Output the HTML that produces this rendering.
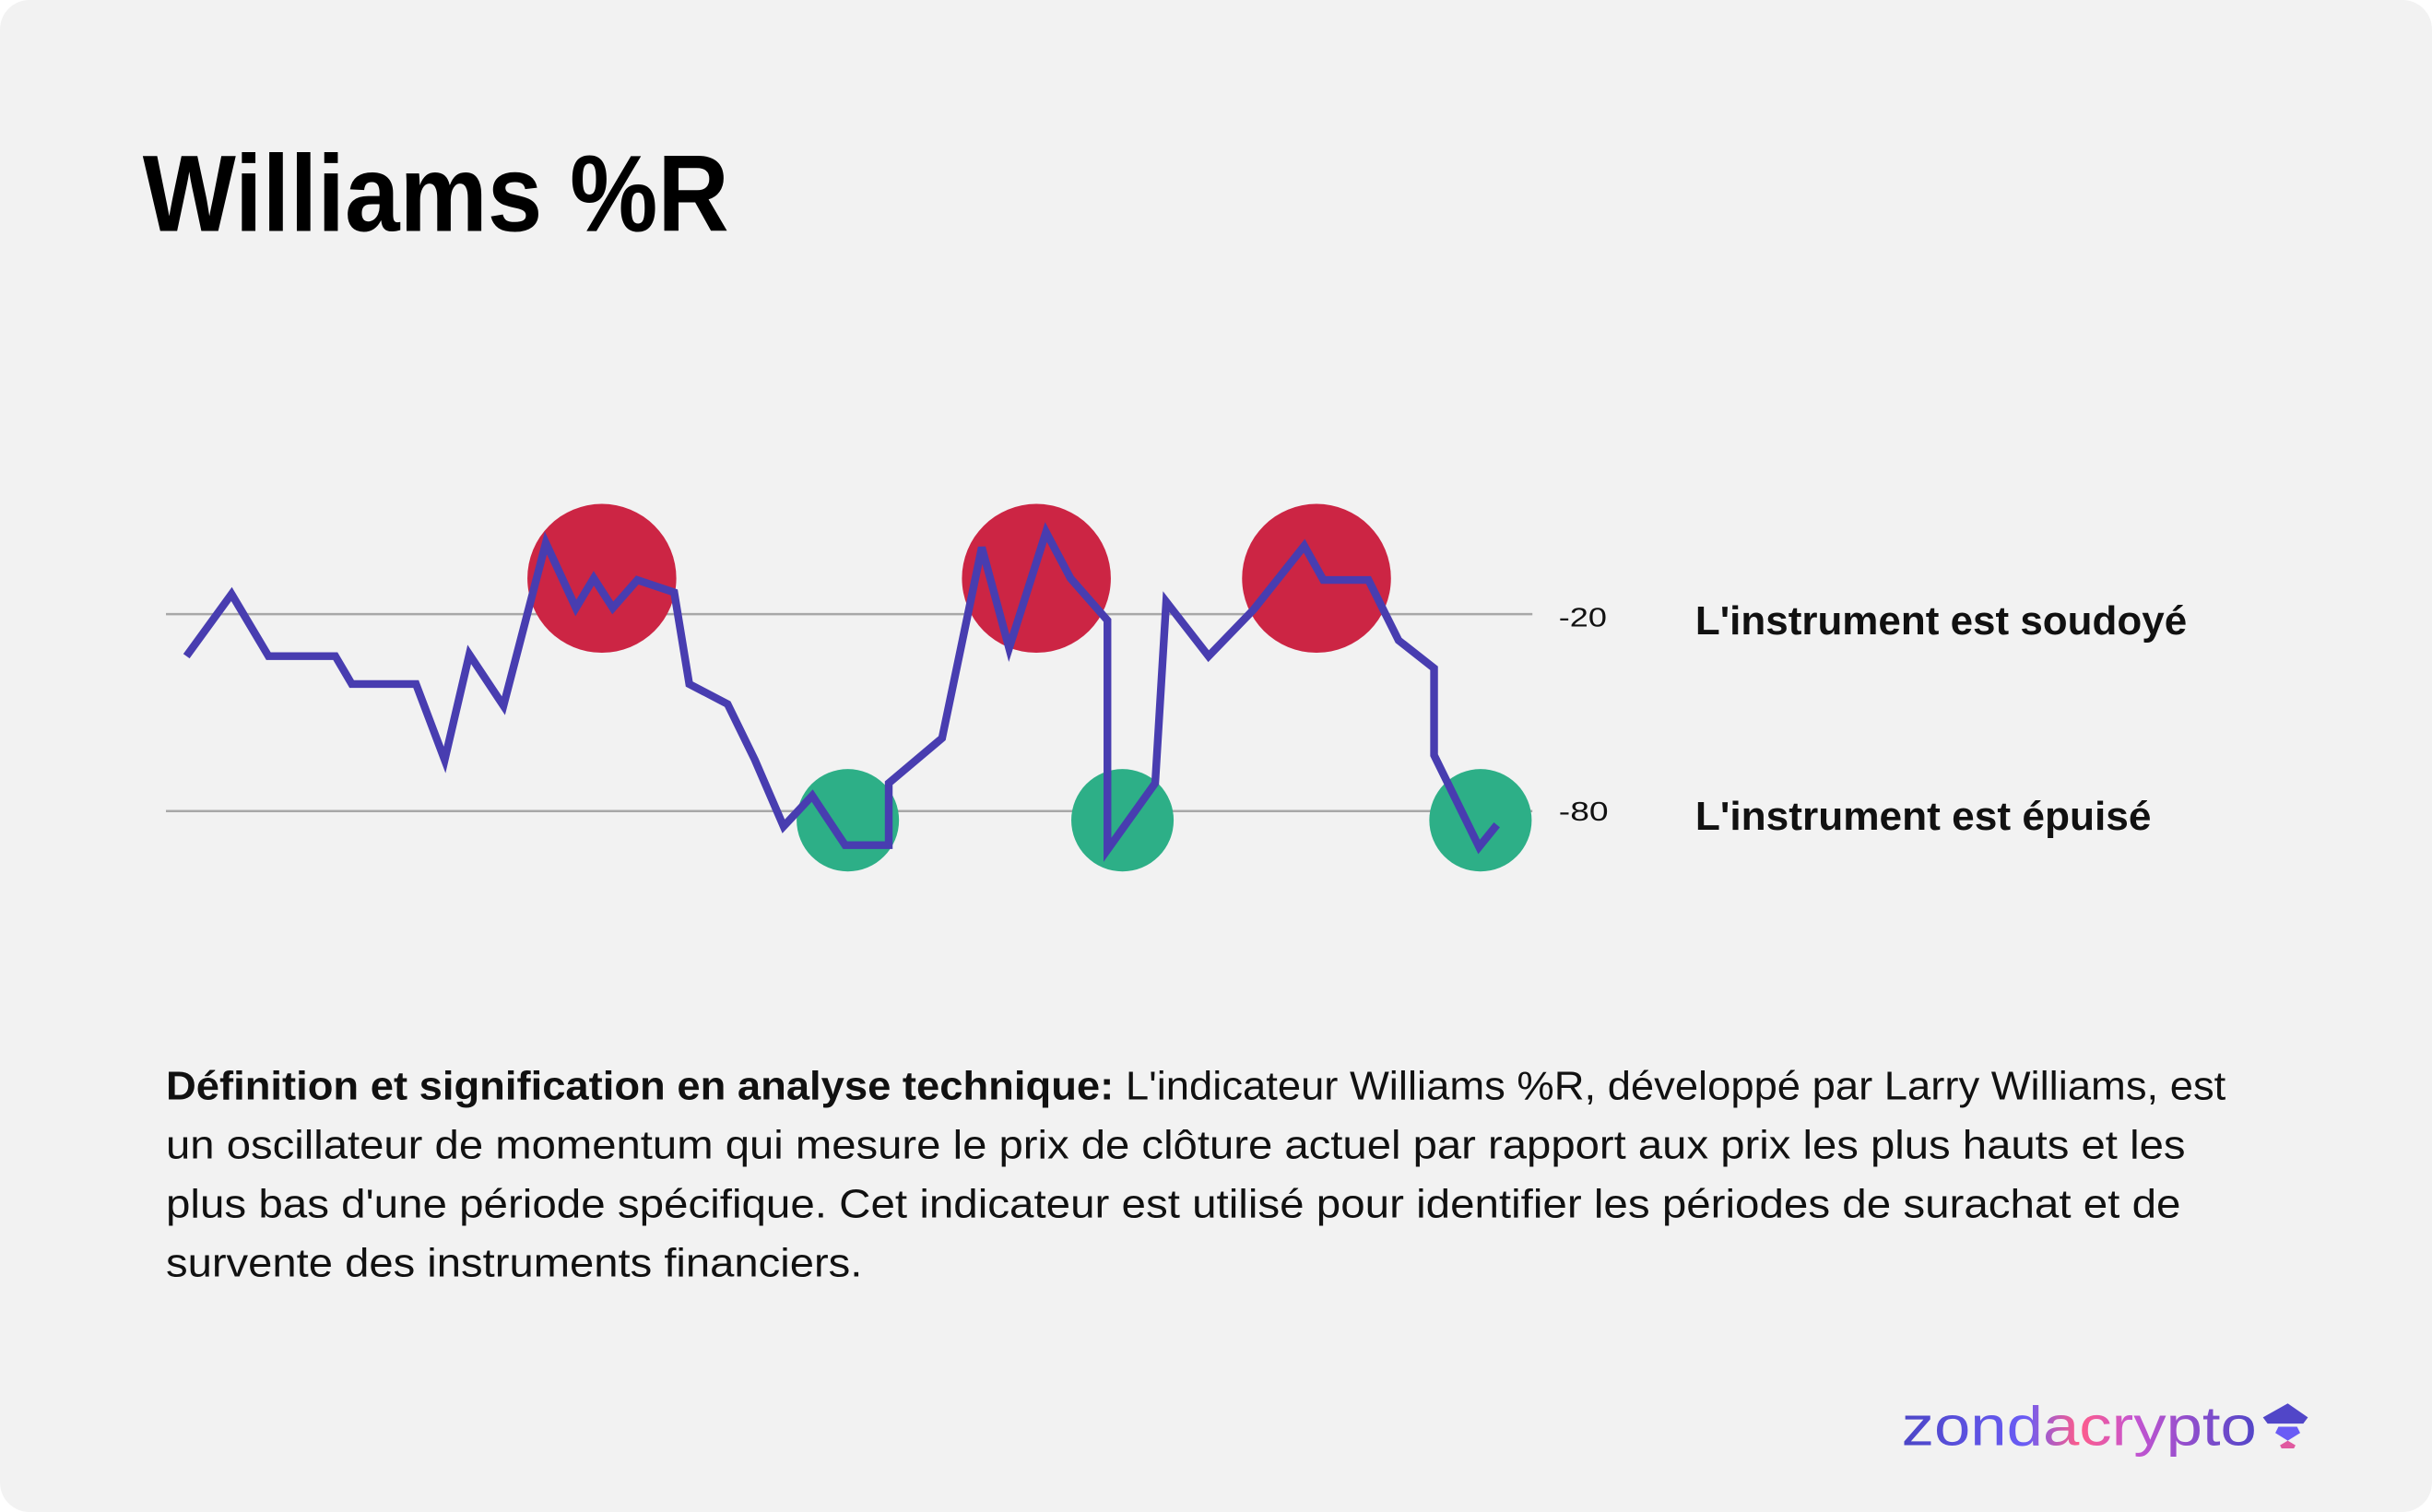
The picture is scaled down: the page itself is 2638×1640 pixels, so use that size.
<!DOCTYPE html>
<html><head><meta charset="utf-8"><style>
html,body{margin:0;padding:0;background:#fff;}
svg{display:block;}
text{font-family:"Liberation Sans",sans-serif;}
</style></head><body>
<svg id="chart" width="2638" height="1640" viewBox="0 0 1568 975" preserveAspectRatio="none" xmlns="http://www.w3.org/2000/svg">
<defs>
<linearGradient id="lg" x1="0" y1="0" x2="1" y2="0">
<stop offset="0" stop-color="#4b45c6"/><stop offset="0.35" stop-color="#6a5cf5"/><stop offset="0.5" stop-color="#ff5c8a"/><stop offset="0.65" stop-color="#c655d0"/><stop offset="1" stop-color="#5146c8"/>
</linearGradient>
</defs>
<rect x="0" y="0" width="1568" height="975" rx="19" fill="#f2f2f2"/>
<text x="92" y="149" font-size="70" font-weight="bold" fill="#000" textLength="378" lengthAdjust="spacingAndGlyphs">Williams %R</text>
<g id="plot"></g>
<text x="1005" y="404" font-size="17" fill="#111" textLength="31" lengthAdjust="spacingAndGlyphs">-20</text>
<text x="1005" y="529" font-size="17" fill="#111" textLength="32" lengthAdjust="spacingAndGlyphs">-80</text>
<text x="1093" y="409" font-size="26" font-weight="bold" fill="#111" textLength="317" lengthAdjust="spacingAndGlyphs">L'instrument est soudoyé</text>
<text x="1093" y="535" font-size="26" font-weight="bold" fill="#111" textLength="294" lengthAdjust="spacingAndGlyphs">L'instrument est épuisé</text>
<g font-size="26" fill="#111">
<text x="107" y="709" textLength="1328" lengthAdjust="spacingAndGlyphs"><tspan font-weight="bold">Définition et signification en analyse technique:</tspan> L'indicateur Williams %R, développé par Larry Williams, est</text>
<text x="107" y="747" textLength="1302" lengthAdjust="spacingAndGlyphs">un oscillateur de momentum qui mesure le prix de clôture actuel par rapport aux prix les plus hauts et les</text>
<text x="107" y="785" textLength="1299" lengthAdjust="spacingAndGlyphs">plus bas d'une période spécifique. Cet indicateur est utilisé pour identifier les périodes de surachat et de</text>
<text x="107" y="823" textLength="449" lengthAdjust="spacingAndGlyphs">survente des instruments financiers.</text>
</g>
<g>
<text x="1226" y="932" font-size="36" font-family="Liberation Mono, monospace" fill="url(#lg)" textLength="229" lengthAdjust="spacingAndGlyphs">zondacrypto</text>
<polygon points="1475,905 1488,914 1485,918 1462,918 1459,914" fill="#5146c8"/>
<polygon points="1469,920 1481,920 1483,924 1475,929 1467,924" fill="#6a5cf5"/>
<polygon points="1470,932 1475,929 1480,932 1479,934 1471,934" fill="#e05aa0"/>
</g>
</svg>
<script>
const times=[1.5,4.8,7.5,12.4,13.6,18.3,20.4,22.2,24.7,27.8,30.0,31.3,32.7,34.5,37.2,38.3,41.1,43.1,45.2,47.3,49.7,52.9,52.9,56.8,59.7,61.7,64.4,66.2,68.9,68.9,72.4,73.2,76.3,79.6,83.3,84.7,88.0,90.2,92.8,92.8,96.1,97.4];
const wr=[-32.8,-13.9,-32.8,-32.8,-41.3,-41.3,-64.4,-32.3,-47.9,1.7,-18.1,-9.1,-18.1,-9.6,-13.4,-41.3,-47.4,-64.4,-84.7,-75.3,-90.4,-90.4,-71.5,-57.8,0.3,-30.4,5.0,-9.1,-21.9,-91.8,-71.5,-16.2,-32.8,-18.6,0.8,-9.6,-9.6,-28.0,-36.5,-63.0,-90.9,-84.2];
const levels=[-20,-80];
const overboughtT=[31.9,63.7,84.2];
const overboughtV=[-9.1,-9.1,-9.1];
const oversoldT=[49.9,70.0,96.2];
const oversoldV=[-82.8,-82.8,-82.8];
const X0=107,X1=988;
function xs(t){return X0+t/100*(X1-X0);}
function ys(v){return 396+(-20-v)/60*127;}
const NS='http://www.w3.org/2000/svg';
const g=document.getElementById('plot');
levels.forEach(function(l){
  const ln=document.createElementNS(NS,'line');
  
  
  ln.setAttribute('x1',X0);ln.setAttribute('x2',X1);
  ln.setAttribute('y1',ys(l));ln.setAttribute('y2',ys(l));
  ln.setAttribute('stroke','#a8a8a8');ln.setAttribute('stroke-width','1.5');
  g.appendChild(ln);
});
overboughtT.forEach(function(t,i){
  const c=document.createElementNS(NS,'circle');
  
  
  c.setAttribute('cx',xs(t));c.setAttribute('cy',ys(overboughtV[i]));c.setAttribute('r',48);
  c.setAttribute('fill','#cc2544');
  g.appendChild(c);
});
oversoldT.forEach(function(t,i){
  const c=document.createElementNS(NS,'circle');
  
  
  c.setAttribute('cx',xs(t));c.setAttribute('cy',ys(oversoldV[i]));c.setAttribute('r',33);
  c.setAttribute('fill','#2daf87');
  g.appendChild(c);
});
const p=document.createElementNS(NS,'polyline');


p.setAttribute('points',times.map(function(t,i){return xs(t).toFixed(1)+','+ys(wr[i]).toFixed(1);}).join(' '));
p.setAttribute('fill','none');p.setAttribute('stroke','#483db0');p.setAttribute('stroke-width','5');
p.setAttribute('stroke-linejoin','miter');
g.appendChild(p);
</script>
</body></html>
